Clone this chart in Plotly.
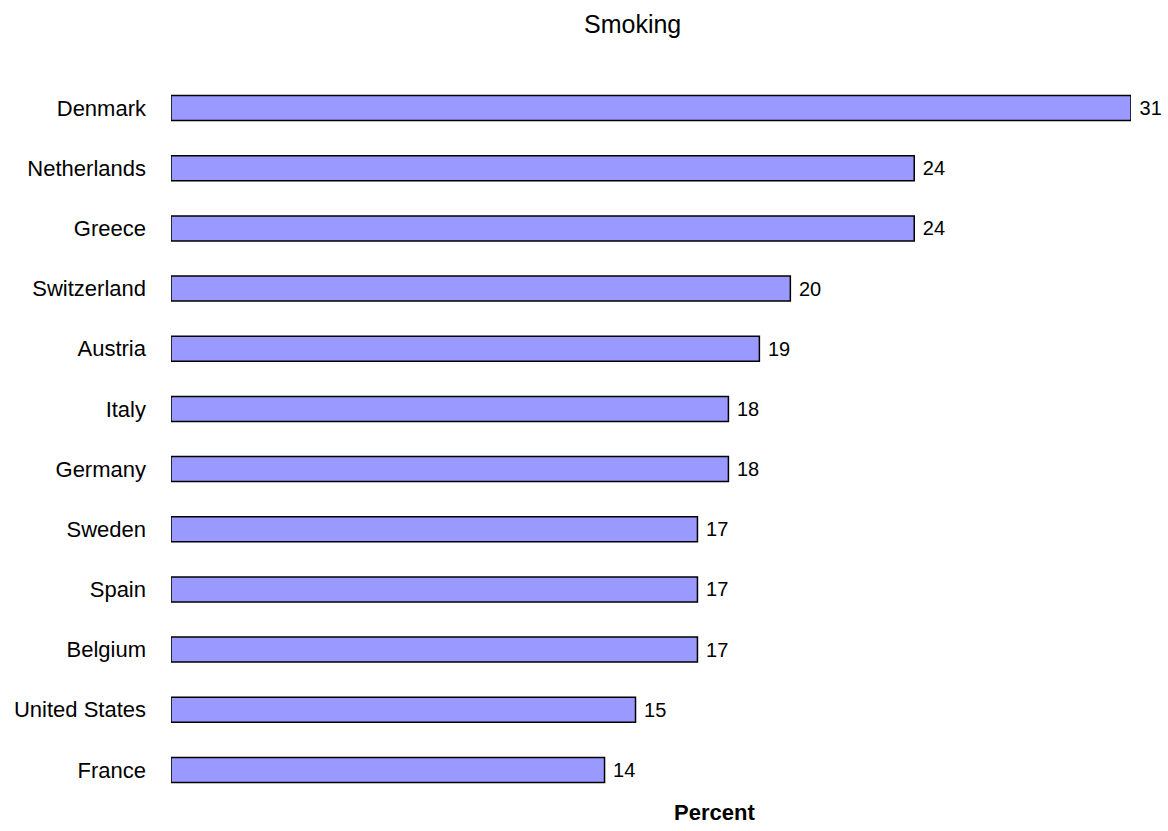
import plotly.graph_objects as go

# Share of smokers by country (percent)
countries = ["Denmark", "Netherlands", "Greece", "Switzerland", "Austria", "Italy",
             "Germany", "Sweden", "Spain", "Belgium", "United States", "France"]
percent = [31, 24, 24, 20, 19, 18, 18, 17, 17, 17, 15, 14]

W, H = 1168, 831
FONT = "Liberation Sans, Arial, sans-serif"
PLOT_W = W - 171 - 37
PLOT_H = H - 78 - 31

fig = go.Figure(
    go.Bar(
        x=percent,
        y=countries,
        orientation="h",
        marker=dict(color="#9999ff", line=dict(color="black", width=1.5)),
        text=[" " + str(v) for v in percent],
        textposition="outside",
        cliponaxis=False,
        textfont=dict(family=FONT, size=20, color="black"),
    )
)

fig.update_layout(
    width=W,
    height=H,
    margin=dict(l=171, r=37, t=78, b=31),
    paper_bgcolor="white",
    plot_bgcolor="white",
    showlegend=False,
    bargap=0.585,
    font=dict(family=FONT, size=22, color="black"),
    xaxis=dict(range=[0, 31], visible=False, showgrid=False, zeroline=False),
    yaxis=dict(
        autorange="reversed",
        showgrid=False,
        zeroline=False,
        showline=False,
        ticks="",
        ticklabelstandoff=24,
        tickfont=dict(family=FONT, size=22, color="black"),
    ),
    annotations=[
        dict(text="Smoking", xref="paper", yref="paper",
             x=(632 - 171) / PLOT_W, y=1 + (78 - 24) / PLOT_H,
             xanchor="center", yanchor="middle", showarrow=False,
             font=dict(family=FONT, size=25, color="black")),
        dict(text="<b>Percent</b>", xref="paper", yref="paper",
             x=(714 - 171) / PLOT_W, y=-(812 - 800) / PLOT_H,
             xanchor="center", yanchor="middle", showarrow=False,
             font=dict(family=FONT, size=22, color="black")),
    ],
)

fig.write_html("out.html")
